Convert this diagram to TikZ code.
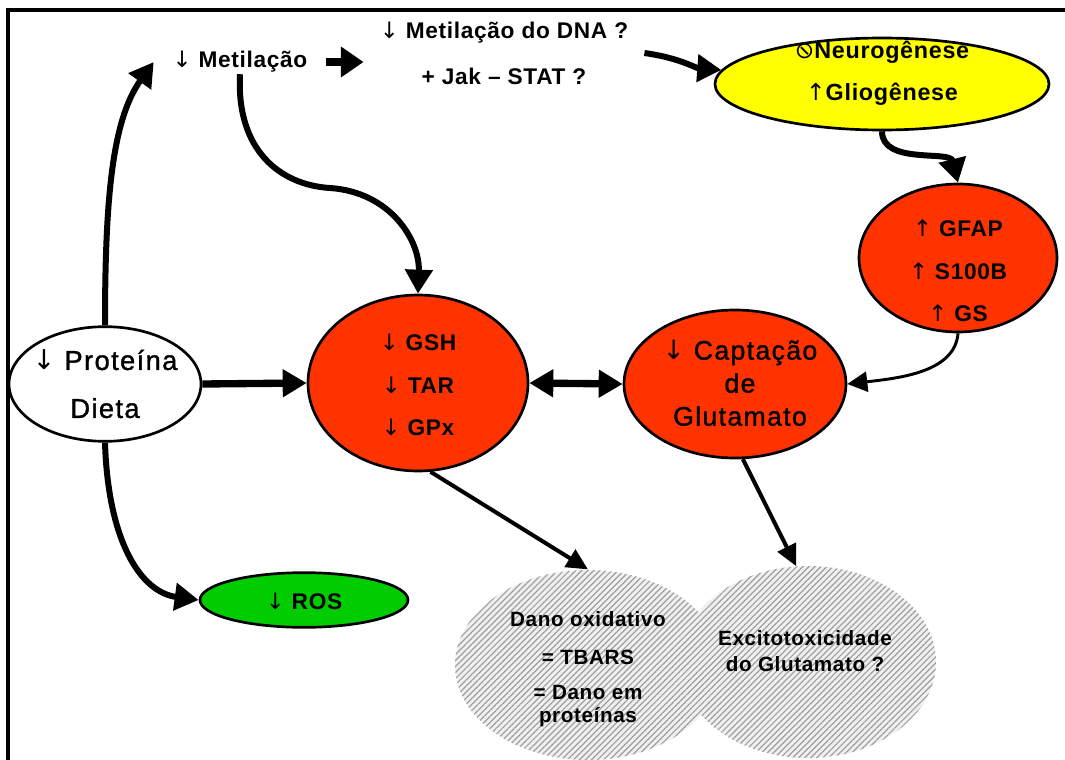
\documentclass[tikz,border=0pt]{standalone}
\usepackage{fontspec}
\setmainfont[LetterSpace=3]{Liberation Sans}
\newfontfamily\semib[LetterSpace=5,FakeBold=1.2]{Liberation Sans}
\newfontfamily\symf{DejaVu Sans}
\usetikzlibrary{shapes.geometric,arrows.meta,patterns.meta}
\newcommand{\dn}{{\symf\mdseries ↓}}
\newcommand{\upa}{{\symf\mdseries ↑}}
\newcommand{\nosign}{\reflectbox{\symf\mdseries ⊘}}
\definecolor{redor}{HTML}{FF3300}
\definecolor{yel}{HTML}{FFFF00}
\definecolor{grn}{HTML}{00CC00}
\begin{document}
\begin{tikzpicture}[x=0.75pt,y=-0.75pt,
  ell/.style={ellipse,draw=black,line width=2pt,inner sep=0pt},
  hatch/.style={ellipse,inner sep=0pt,preaction={fill=gray!12},
    pattern={Lines[angle=45,distance=3.2pt,line width=0.9pt]},pattern color=gray!75},
  lbl/.style={font=\bfseries\fontsize{17}{32}\selectfont,inner sep=1pt,align=center},
  reg/.style={font=\semib\fontsize{20.5}{36}\selectfont,inner sep=1pt,align=center},
  fat/.style={line width=4.5pt,-{Triangle[length=18pt,width=20pt]}},
  slim/.style={line width=2.2pt,-{Triangle[length=15pt,width=15pt]}},
  mid/.style={line width=3pt,-{Triangle[length=16pt,width=15pt]}},
]
\useasboundingbox (0,0) rectangle (1065,760);
\draw[line width=2.3pt] (8,760) -- (8,10) -- (1065,10);

% shapes
\node[ell,fill=white,minimum width=144pt,minimum height=86pt] (prot) at (105,384) {};
\node[ell,fill=redor,minimum width=165pt,minimum height=132pt] (gsh) at (418,383) {};
\node[ell,fill=redor,minimum width=166.5pt,minimum height=111pt] (capt) at (735,384) {};
\node[ell,fill=yel,minimum width=250.5pt,minimum height=69pt] (yel) at (882,84) {};
\node[ell,fill=redor,minimum width=148.5pt,minimum height=111pt] (gfap) at (958,258) {};
\node[ell,fill=grn,minimum width=156pt,minimum height=41pt] (ros) at (304,600) {};
\node[hatch,minimum width=199.5pt,minimum height=142.5pt] (dano) at (588,665) {};
\node[hatch,minimum width=192pt,minimum height=144pt] (exc) at (808,662) {};

% texts
\node[lbl,inner xsep=14pt] (met) at (240,62) {\dn\ Metilação};
\node[lbl,font=\bfseries\fontsize{17}{34.5}\selectfont,inner xsep=12pt] (dna) at (504,53) {\dn\ Metilação do DNA ?\\+ Jak -- STAT ?};
\node[reg] (prott) at (105,384) {\dn\ Proteína\\Dieta};
\node[lbl] (gsht) at (418,385) {\dn\ GSH\\\dn\ TAR\\\dn\ GPx};
\node[reg,font=\semib\fontsize{20}{24.75}\selectfont] (captt) at (740,383) {\dn\ Captação\\de\\Glutamato};
\node[lbl,font=\bfseries\fontsize{17.5}{31.5}\selectfont] (yelt) at (882,73) {\nosign Neurogênese\\\upa Gliogênese};
\node[lbl] (gfapt) at (958,271) {\upa\ GFAP\\\upa\ S100B\\\upa\ GS};
\node[lbl] (rost) at (304,601) {\dn\ ROS};
\node[lbl,font=\bfseries\fontsize{15.5}{28}\selectfont] (dano1) at (588,638) {Dano oxidativo\\= TBARS};
\node[lbl,font=\bfseries\fontsize{15.5}{17.5}\selectfont] (dano2) at (588,706) {= Dano em\\proteínas};
\node[lbl,font=\bfseries\fontsize{15.5}{20}\selectfont] (exct) at (805,651) {Excitotoxicidade\\do Glutamato ?};

% connectors
\draw[fat] (prot.north) .. controls (105,200) and (112,120) .. (met.west);
\draw[fat,line width=6pt,-{Triangle[length=17pt,width=22pt]}] (met.east) -- (dna.west |- met.east);
\draw[fat] (met.south) .. controls (236,150) and (280,185) .. (330,188) .. controls (390,192) and (420,240) .. (gsh.north);
\draw[fat] (dna.east) .. controls (680,58) and (695,68) .. (yel.175);
\draw[fat] (yel.south) .. controls (882,165) and (950,150) .. (gfap.north);
\draw[slim] (gfap.south) .. controls (955,372) and (900,378) .. (capt.east);
\draw[fat,line width=5.5pt] (prot.east) -- (gsh.west);
\draw[line width=5.5pt,{Triangle[length=18pt,width=20pt]}-{Triangle[length=18pt,width=20pt]}] (gsh.east) -- (capt.west);
\draw[fat] (prot.south) .. controls (108,540) and (140,592) .. (ros.west);
\draw[mid] (gsh.-82) -- (dano.north);
\draw[mid] (capt.-84) -- (exc.97);
\end{tikzpicture}
\end{document}
